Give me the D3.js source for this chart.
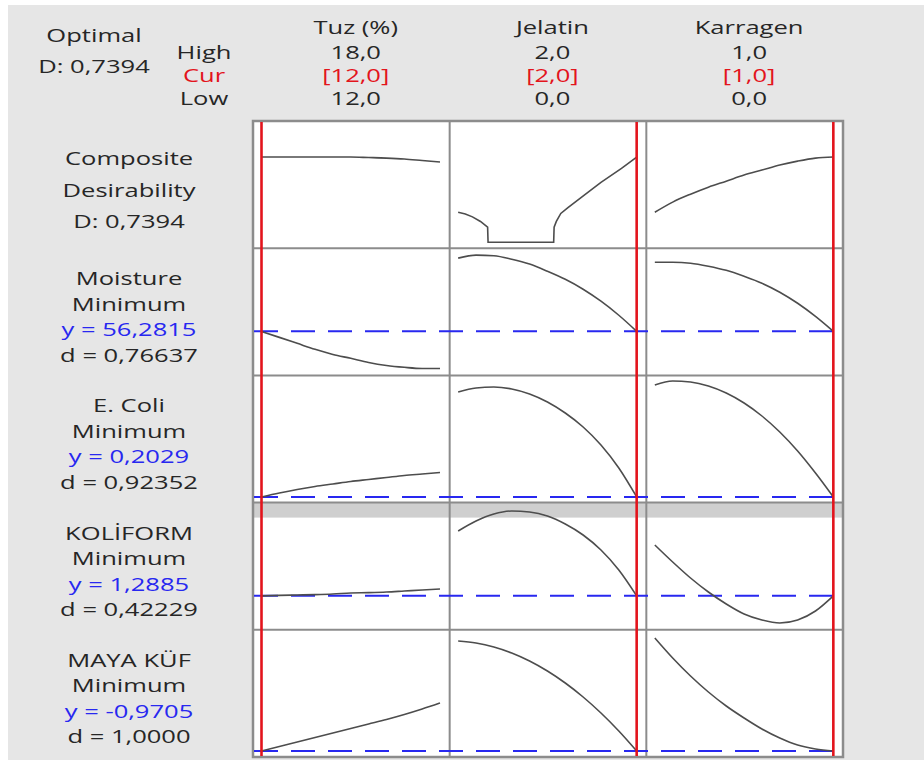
<!DOCTYPE html>
<html><head><meta charset="utf-8">
<script src="https://cdn.jsdelivr.net/npm/d3@7"></script>
<style>
html,body{margin:0;padding:0;background:#fff;}
svg{display:block;}
text{font-family:"Open Sans",sans-serif;font-size:18px;}
</style>
</head><body>
<svg id="c" width="924" height="763"></svg>
<script>
// ---------- DATA ----------
const factors = ["Tuz (%)", "Jelatin", "Karragen"];
const factorLow = [12, 0, 0];
const factorHigh = [18, 2, 1];
const factorCur = [12, 2, 1];
const optimalD = 0.7394;

const responseNames = ["Moisture", "E. Coli", "KOLİFORM", "MAYA KÜF"];
const responseGoals = ["Minimum", "Minimum", "Minimum", "Minimum"];
const predicted = [56.2815, 0.2029, 1.2885, -0.9705];
const dLabels = ["0,76637", "0,92352", "0,42229", "1,0000"];

// y domains of each row (composite first)
const yDomains = [[0, 1], [54.63, 59.63], [0.21, 2.514], [0.59, 3.47], [-0.9705, 3.6375]];

// x sample positions of each factor
const tuzX = [12, 12.6, 13.2, 13.8, 14.4, 15, 15.6, 16.2, 16.8, 17.4, 18];
const jelX = [0, 0.2, 0.4, 0.6, 0.8, 1.0, 1.2, 1.4, 1.6, 1.8, 2.0];
const karX = [0, 0.1, 0.2, 0.3, 0.4, 0.5, 0.6, 0.7, 0.8, 0.9, 1.0];

// Composite desirability
const compTuz = [0.7394, 0.7394, 0.7394, 0.7394, 0.7394, 0.7394, 0.735, 0.730, 0.722, 0.709, 0.696];
const compJelatin = [[0, 0.26], [0.08, 0.245], [0.16, 0.22], [0.25, 0.18], [0.33, 0.13], [0.335, 0],
  [1.07, 0], [1.075, 0.13], [1.1, 0.18], [1.15, 0.25], [1.23, 0.30], [1.38, 0.39], [1.6, 0.52], [1.83, 0.64], [2.0, 0.7394]];
const compKar = [0.26, 0.348, 0.417, 0.478, 0.530, 0.583, 0.626, 0.670, 0.704, 0.730, 0.7394];

// Moisture
const moistTuz = [56.28, 56.02, 55.76, 55.50, 55.28, 55.11, 54.93, 54.80, 54.72, 54.67, 54.67];
const moistJel = [59.46, 59.59, 59.56, 59.41, 59.20, 58.89, 58.54, 58.11, 57.59, 56.98, 56.2815];
const moistKar = [59.28, 59.28, 59.24, 59.11, 58.93, 58.67, 58.37, 57.98, 57.50, 56.93, 56.2815];

// E. Coli
const ecoliTuz = [0.2029, 0.282, 0.352, 0.412, 0.462, 0.512, 0.552, 0.592, 0.632, 0.662, 0.692];
const ecoliJel = [2.302, 2.382, 2.402, 2.362, 2.262, 2.102, 1.882, 1.602, 1.242, 0.782, 0.2029];
const ecoliKar = [2.442, 2.522, 2.502, 2.422, 2.282, 2.082, 1.822, 1.502, 1.122, 0.682, 0.2029];

// KOLİFORM
const kolTuz = [1.2885, 1.30, 1.31, 1.32, 1.335, 1.36, 1.37, 1.385, 1.41, 1.435, 1.46];
const kolJel = [2.91, 3.16, 3.335, 3.41, 3.385, 3.285, 3.085, 2.81, 2.435, 1.935, 1.2885];
const kolKar = [2.56, 2.135, 1.735, 1.385, 1.085, 0.835, 0.685, 0.61, 0.685, 0.91, 1.2885];

// MAYA KÜF
const mayaTuz = [-0.9705, -0.79, -0.61, -0.43, -0.25, -0.07, 0.11, 0.29, 0.49, 0.71, 0.95];
const mayaJel = [3.43, 3.35, 3.19, 2.95, 2.63, 2.23, 1.75, 1.19, 0.55, -0.17, -0.9705];
const mayaKar = [3.55, 2.75, 2.03, 1.39, 0.83, 0.35, -0.09, -0.45, -0.73, -0.89, -0.9705];

// ---------- LAYOUT ----------
const W = 924, H = 763;
const gridL = 253, gridR = 843, gridT = 121, gridB = 757;
const nCols = 3, nRows = 5;
const colW = (gridR - gridL) / nCols, rowH = (gridB - gridT) / nRows;
const SX = 1.42;
const txtCol = "#262626", red = "#e3141c", blue = "#2828f0";

const svg = d3.select("#c");
svg.append("rect").attr("x", 8).attr("y", 5).attr("width", W - 8).attr("height", 755).attr("fill", "#e6e6e6");

function txt(x, y, s, color) {
  svg.append("text").attr("transform", `translate(${x},${y}) scale(${SX},1)`)
    .attr("text-anchor", "middle").attr("fill", color || txtCol).text(s);
}
const fmt = (v, d) => d3.format(`.${d}f`)(v).replace(".", ",").replace("−", "-");

// scales
const xScales = factors.map((f, i) => d3.scaleLinear().domain([factorLow[i], factorHigh[i]])
  .range([gridL + i * colW + 8.5, gridL + i * colW + 187]));
const yScales = yDomains.map((dom, r) => d3.scaleLinear().domain(dom)
  .range([gridT + (r + 1) * rowH - 6, gridT + r * rowH + 6]));

// header text
txt(94, 42, "Optimal");
txt(94, 73, "D: " + fmt(optimalD, 4));
txt(204, 59, "High");
txt(204, 82, "Cur", red);
txt(204, 105, "Low");
factors.forEach((f, i) => {
  const cx = (xScales[i].range()[0] + xScales[i].range()[1]) / 2 + 5;
  txt(cx, 34, f);
  txt(cx, 59, fmt(factorHigh[i], 1));
  txt(cx, 82, "[" + fmt(factorCur[i], 1) + "]", red);
  txt(cx, 105, fmt(factorLow[i], 1));
});

// left labels
const lx = 129;
txt(lx, gridT + 44, "Composite");
txt(lx, gridT + 75.5, "Desirability");
txt(lx, gridT + 107, "D: " + fmt(optimalD, 4));
responseNames.forEach((n, k) => {
  const top = gridT + (k + 1) * rowH;
  txt(lx, top + 37, n);
  txt(lx, top + 62.5, responseGoals[k]);
  txt(lx, top + 88, "y = " + fmt(predicted[k], 4), blue);
  txt(lx, top + 113.5, "d = " + dLabels[k]);
});

// plot area
svg.append("rect").attr("x", gridL).attr("y", gridT).attr("width", gridR - gridL).attr("height", gridB - gridT).attr("fill", "#fff");
// highlighted band (selected response)
svg.append("rect").attr("x", gridL).attr("y", gridT + 3 * rowH).attr("width", gridR - gridL).attr("height", 15).attr("fill", "#cfcfcf");

// grid lines
const gl = svg.append("g").attr("stroke", "#8c8c8c").attr("stroke-width", 2).attr("fill", "none");
for (let i = 1; i < nCols; i++) gl.append("line").attr("x1", gridL + i * colW).attr("x2", gridL + i * colW).attr("y1", gridT).attr("y2", gridB);
for (let r = 1; r < nRows; r++) gl.append("line").attr("x1", gridL).attr("x2", gridR).attr("y1", gridT + r * rowH).attr("y2", gridT + r * rowH);
gl.append("rect").attr("x", gridL).attr("y", gridT).attr("width", gridR - gridL).attr("height", gridB - gridT).attr("stroke-width", 2.5);

// blue dashed target lines
predicted.forEach((p, k) => {
  const y = yScales[k + 1](p);
  svg.append("line").attr("x1", gridL + 1).attr("x2", gridR - 1).attr("y1", y).attr("y2", y)
    .attr("stroke", blue).attr("stroke-width", 2).attr("stroke-dasharray", "24,13");
});

// curves
const xsByCol = [tuzX, jelX, karX];
const curves = [
  [compTuz, compJelatin, compKar],
  [moistTuz, moistJel, moistKar],
  [ecoliTuz, ecoliJel, ecoliKar],
  [kolTuz, kolJel, kolKar],
  [mayaTuz, mayaJel, mayaKar]
];
curves.forEach((row, r) => {
  row.forEach((vals, c) => {
    const pts = Array.isArray(vals[0]) ? vals : vals.map((v, i) => [xsByCol[c][i], v]);
    const isStep = Array.isArray(vals[0]);
    const line = d3.line().x(d => xScales[c](d[0])).y(d => yScales[r](d[1]))
      .curve(isStep ? d3.curveLinear : d3.curveMonotoneX);
    svg.append("path").attr("d", line(pts)).attr("fill", "none")
      .attr("stroke", "#4d4d4d").attr("stroke-width", 1.6);
  });
});

// red current-setting lines
factorCur.forEach((v, i) => {
  const x = xScales[i](v);
  svg.append("line").attr("x1", x).attr("x2", x).attr("y1", gridT + 1).attr("y2", gridB - 1)
    .attr("stroke", red).attr("stroke-width", 2.6);
});
</script>
</body></html>
